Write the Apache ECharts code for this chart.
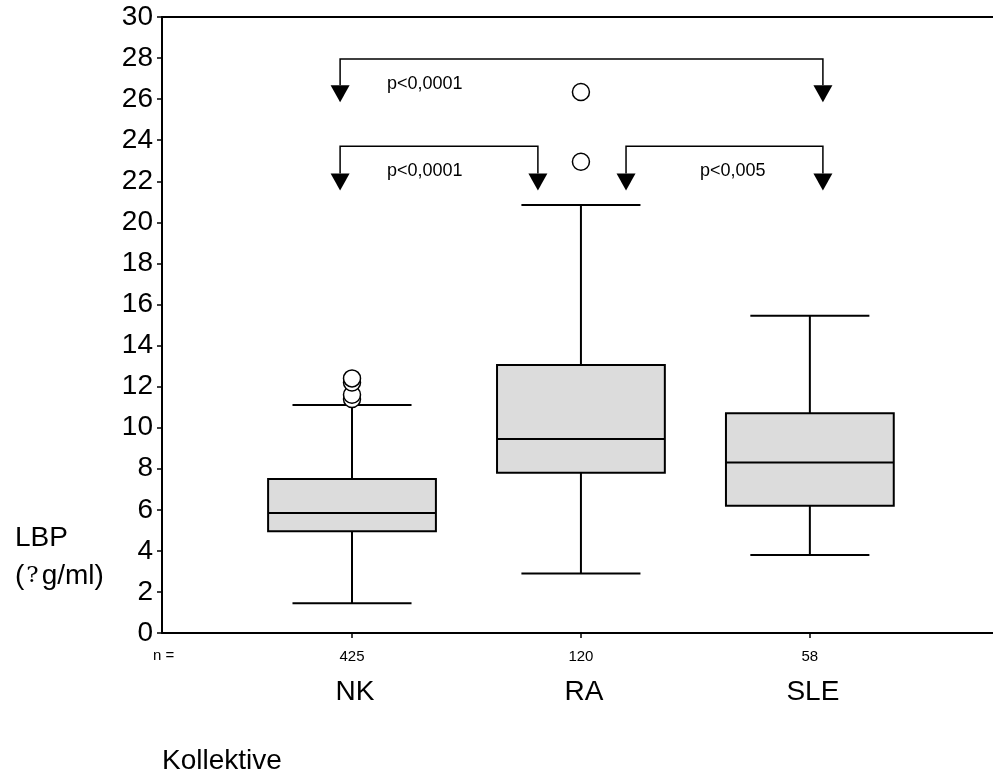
<!DOCTYPE html>
<html>
<head>
<meta charset="utf-8">
<style>html,body{margin:0;padding:0;background:#fff}#c{width:993px;height:778px}</style>
<script src="https://cdn.jsdelivr.net/npm/echarts@6/dist/echarts.min.js"></script>
</head>
<body>
<div id="c"></div>
<script>
// ---- data ----
const categories = ['NK', 'RA', 'SLE'];
const nCounts = [425, 120, 58];
const whiskerLow = [1.45, 2.9, 3.8];
const quartile1 = [4.95, 7.8, 6.2];
const medians = [5.85, 9.45, 8.3];
const quartile3 = [7.5, 13.05, 10.7];
const whiskerHigh = [11.1, 20.85, 15.45];
const outliersNK = [11.4, 11.6, 12.2, 12.4];
const outliersRA = [22.95, 26.35];
const outliersSLE = [];
const pLabels = ['p<0,0001', 'p<0,0001', 'p<0,005'];
const yMin = 0, yMax = 30, yStep = 2;

// ---- layout (annotation placement, axis units) ----
const X_MIN = 0.17, X_MAX = 3.80;
const BOX_W = 0.733, CAP_W = 0.52;
const bracketLayout = [
  // x1, x2, yLine, yTip, textX, textY
  [0.948, 3.057, 27.95, 25.85, 1.153, 26.75],
  [0.948, 1.812, 23.70, 21.55, 1.153, 22.50],
  [2.197, 3.057, 23.70, 21.55, 2.520, 22.50]
];

const FONT = 'Liberation Sans, Arial, Helvetica, sans-serif';
const boxData = categories.map((c, i) => [i + 1, whiskerLow[i], quartile1[i], medians[i], quartile3[i], whiskerHigh[i]]);
const outlierData = [];
[outliersNK, outliersRA, outliersSLE].forEach((arr, i) => arr.forEach(v => outlierData.push([i + 1, v])));
const bracketData = bracketLayout.map((b, i) => b.concat([i]));

const chart = echarts.init(document.getElementById('c'), null, {renderer: 'canvas'});

const option = {
  backgroundColor: '#fff',
  animation: false,
  grid: {left: 162, right: 0, top: 17, bottom: 145, containLabel: false},
  xAxis: [{
    type: 'value', min: X_MIN, max: X_MAX,
    splitLine: {show: false},
    axisLine: {show: true, onZero: false, lineStyle: {color: '#000', width: 2}},
    axisTick: {show: true, customValues: [1, 2, 3], length: 5, lineStyle: {color: '#000', width: 1.5}},
    axisLabel: {
      show: true, customValues: [1, 2, 3], margin: 9,
      formatter: v => {
        const i = Math.round(v) - 1;
        return '{n|' + nCounts[i] + '}\n{c|' + categories[i] + '}';
      },
      rich: {
        n: {fontSize: 15, fontFamily: FONT, color: '#000', lineHeight: 30},
        c: {fontSize: 28, fontFamily: FONT, color: '#000', lineHeight: 40, padding: [0, 0, 0, 6]}
      }
    }
  }, {
    type: 'value', min: X_MIN, max: X_MAX, position: 'top',
    splitLine: {show: false},
    axisLine: {show: true, onZero: false, lineStyle: {color: '#000', width: 2}},
    axisTick: {show: false}, axisLabel: {show: false}
  }],
  yAxis: {
    type: 'value', min: yMin, max: yMax, interval: yStep,
    splitLine: {show: false},
    axisLine: {show: true, onZero: false, lineStyle: {color: '#000', width: 2}},
    axisTick: {show: true, length: 5, lineStyle: {color: '#000', width: 1.5}},
    axisLabel: {fontSize: 28, fontFamily: FONT, color: '#000', margin: 9}
  },
  series: [{
    type: 'custom',
    data: boxData,
    encode: {x: 0, y: [1, 2, 3, 4, 5]},
    renderItem: (params, api) => {
      const x = api.value(0);
      const pl = api.coord([x, api.value(1)]);
      const p1 = api.coord([x, api.value(2)]);
      const pm = api.coord([x, api.value(3)]);
      const p3 = api.coord([x, api.value(4)]);
      const ph = api.coord([x, api.value(5)]);
      const hb = api.size([BOX_W, 0])[0] / 2;
      const hc = api.size([CAP_W, 0])[0] / 2;
      const cx = pm[0];
      const ls = {stroke: '#000', lineWidth: 2};
      const line = (x1, y1, x2, y2) => ({type: 'line', shape: {x1, y1, x2, y2}, style: ls});
      return {type: 'group', children: [
        line(cx, pl[1], cx, p1[1]),
        line(cx, p3[1], cx, ph[1]),
        line(cx - hc, pl[1], cx + hc, pl[1]),
        line(cx - hc, ph[1], cx + hc, ph[1]),
        {type: 'rect', shape: {x: cx - hb, y: p3[1], width: 2 * hb, height: p1[1] - p3[1]},
          style: {fill: '#dcdcdc', stroke: '#000', lineWidth: 2}},
        line(cx - hb, pm[1], cx + hb, pm[1])
      ]};
    },
    z: 2
  }, {
    type: 'scatter',
    data: outlierData,
    symbol: 'circle', symbolSize: 17,
    itemStyle: {color: '#fff', borderColor: '#000', borderWidth: 1.5, opacity: 1},
    z: 3
  }, {
    type: 'custom',
    data: bracketData,
    encode: {x: [0, 1], y: [2, 3]},
    renderItem: (params, api) => {
      const x1 = api.value(0), x2 = api.value(1), yl = api.value(2), yt = api.value(3);
      const a = api.coord([x1, yl]);
      const b = api.coord([x2, yl]);
      const ta = api.coord([x1, yt]);
      const tb = api.coord([x2, yt]);
      const hw = 9.5, hh = 17;
      const t = api.coord([api.value(4), api.value(5)]);
      const idx = api.value(6);
      const tri = (p) => ({type: 'polygon', shape: {points: [[p[0] - hw, p[1] - hh], [p[0] + hw, p[1] - hh], [p[0], p[1]]]},
        style: {fill: '#000'}});
      return {type: 'group', children: [
        {type: 'polyline', shape: {points: [[a[0], ta[1] - hh], a, b, [b[0], tb[1] - hh]]},
          style: {stroke: '#000', lineWidth: 1.5, fill: null}},
        tri(ta), tri(tb),
        {type: 'text', x: t[0], y: t[1], style: {text: pLabels[idx], fill: '#000', fontSize: 18,
          fontFamily: FONT, align: 'left', verticalAlign: 'middle'}}
      ]};
    },
    z: 4
  }],
  graphic: [
    {type: 'text', left: 15, top: 540 - 16, style: {text: 'LBP', fill: '#000', fontSize: 28, fontFamily: FONT}},
    {type: 'text', left: 15, top: 578 - 16, style: {text: '({q|?}g/ml)', fill: '#000', fontSize: 28, fontFamily: FONT,
      rich: {q: {fontSize: 23, fontFamily: 'DejaVu Serif, serif', fill: '#000', padding: [0, 3, 0, 2]}}}},
    {type: 'text', left: 153, top: 657 - 9, style: {text: 'n =', fill: '#000', fontSize: 15, fontFamily: FONT}},
    {type: 'text', left: 162, top: 763 - 16, style: {text: 'Kollektive', fill: '#000', fontSize: 28, fontFamily: FONT}}
  ]
};
chart.setOption(option);
</script>
</body>
</html>
